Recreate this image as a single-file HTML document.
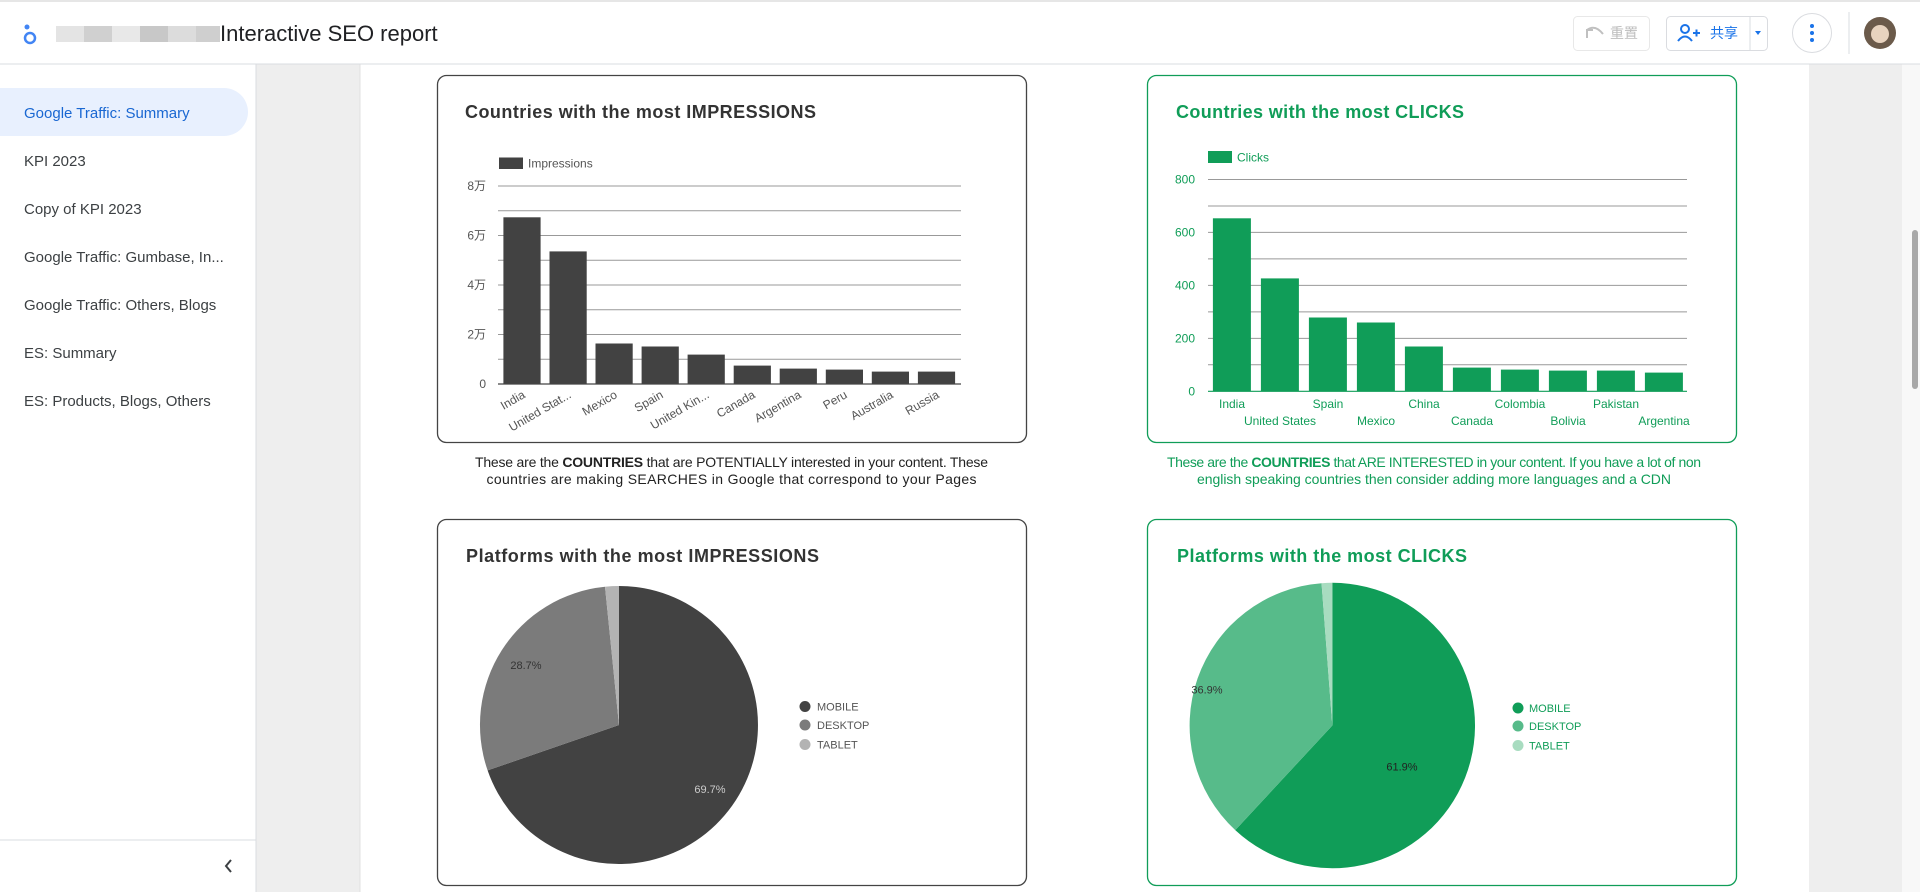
<!DOCTYPE html>
<html><head><meta charset="utf-8"><style>
html,body{margin:0;padding:0;width:1920px;height:892px;overflow:hidden;background:#fff}
svg{display:block}
text{font-family:"Liberation Sans","Noto Sans CJK SC",sans-serif}
</style></head><body>
<svg width="1920" height="892" viewBox="0 0 1920 892" xmlns="http://www.w3.org/2000/svg">
<!-- backgrounds -->
<rect x="0" y="0" width="1920" height="892" fill="#fff"/>
<rect x="256" y="64" width="1664" height="828" fill="#eeeeee"/>
<rect x="360" y="64" width="1449" height="828" fill="#fff"/>
<line x1="360" y1="64" x2="360" y2="892" stroke="#e0e0e0"/>
<rect x="1902" y="64" width="18" height="828" fill="#f8f8f8"/>
<rect x="1912" y="230" width="6" height="159" rx="3" fill="#a8a8a8"/>
<!-- header -->
<line x1="0" y1="1" x2="1920" y2="1" stroke="#e6e6e6" stroke-width="2"/>
<line x1="0" y1="64" x2="1920" y2="64" stroke="#dadce0"/>
<circle cx="30" cy="38" r="5" fill="none" stroke="#4285f4" stroke-width="2.5"/>
<circle cx="27" cy="27" r="2.5" fill="#4285f4"/>
<rect x="56" y="26" width="28" height="16" fill="#e4e4e4"/>
<rect x="84" y="26" width="28" height="16" fill="#d0d0d0"/>
<rect x="112" y="26" width="28" height="16" fill="#e8e8e8"/>
<rect x="140" y="26" width="28" height="16" fill="#c8c8c8"/>
<rect x="168" y="26" width="28" height="16" fill="#dcdcdc"/>
<rect x="196" y="26" width="24" height="16" fill="#cfcfcf"/>
<text x="220" y="41" font-size="22" fill="#202124">Interactive SEO report</text>
<rect x="1573.5" y="16.5" width="76" height="34" rx="4" fill="#fff" stroke="#e8e8e8"/>
<path d="M1587 38 l0-8 l6 0 M1587 30 q8-6 16 4" fill="none" stroke="#c0c0c0" stroke-width="2"/>
<text x="1610" y="38" font-size="14" fill="#bdbdbd">重置</text>
<rect x="1666.5" y="16.5" width="101" height="34" rx="4" fill="#fff" stroke="#dadce0"/>
<line x1="1750" y1="17" x2="1750" y2="50" stroke="#dadce0"/>
<circle cx="1685" cy="29" r="4" fill="none" stroke="#1a73e8" stroke-width="2"/>
<path d="M1678 41 q7-9 14 0" fill="none" stroke="#1a73e8" stroke-width="2"/>
<path d="M1693 33 h7 M1696.5 29.5 v7" stroke="#1a73e8" stroke-width="2"/>
<text x="1710" y="38" font-size="14" fill="#1a73e8">共享</text>
<path d="M1755 31 l6 0 l-3 4 z" fill="#1a73e8"/>
<circle cx="1812" cy="33" r="19.5" fill="#fff" stroke="#dadce0"/>
<circle cx="1812" cy="26" r="2" fill="#1a73e8"/><circle cx="1812" cy="33" r="2" fill="#1a73e8"/><circle cx="1812" cy="40" r="2" fill="#1a73e8"/>
<line x1="1849" y1="12" x2="1849" y2="54" stroke="#dadce0"/>
<circle cx="1880" cy="33" r="16" fill="#6b5a4a"/>
<circle cx="1880" cy="34" r="9" fill="#e8d3bf"/>
<!-- sidebar -->
<line x1="256" y1="64" x2="256" y2="892" stroke="#dadce0"/>
<path d="M0 88 H224 a24 24 0 0 1 0 48 H0 Z" fill="#e8f0fe"/>
<g font-size="15" fill="#3c4043">
<text x="24" y="118" fill="#1967d2">Google Traffic: Summary</text>
<text x="24" y="166">KPI 2023</text>
<text x="24" y="214">Copy of KPI 2023</text>
<text x="24" y="262">Google Traffic: Gumbase, In...</text>
<text x="24" y="310">Google Traffic: Others, Blogs</text>
<text x="24" y="358">ES: Summary</text>
<text x="24" y="406">ES: Products, Blogs, Others</text>
</g>
<line x1="0" y1="840" x2="256" y2="840" stroke="#dadce0"/>
<path d="M231 860 l-5 6 l5 6" fill="none" stroke="#3c4043" stroke-width="2"/>

<!-- Card 1 -->
<rect x="437.5" y="75.5" width="589" height="367" rx="9" fill="#fff" stroke="#444" stroke-width="1.3"/>
<text x="465" y="118" font-size="18" font-weight="bold" fill="#333" textLength="351">Countries with the most IMPRESSIONS</text>
<rect x="499" y="157.5" width="24" height="11.5" fill="#424242"/>
<text x="528" y="167.5" font-size="12" fill="#555">Impressions</text>
<g stroke="#999" stroke-width="1">
<line x1="498" y1="186" x2="961" y2="186"/><line x1="498" y1="210.75" x2="961" y2="210.75"/>
<line x1="498" y1="235.5" x2="961" y2="235.5"/><line x1="498" y1="260.25" x2="961" y2="260.25"/>
<line x1="498" y1="285" x2="961" y2="285"/><line x1="498" y1="309.75" x2="961" y2="309.75"/>
<line x1="498" y1="334.5" x2="961" y2="334.5"/><line x1="498" y1="359.25" x2="961" y2="359.25"/>
</g>
<g font-size="12" fill="#555" text-anchor="end">
<text x="486" y="190">8万</text><text x="486" y="239.5">6万</text><text x="486" y="289">4万</text><text x="486" y="338.5">2万</text><text x="486" y="388">0</text>
</g>
<g fill="#424242">
<rect x="503.4" y="217.3" width="37.2" height="166.7"/>
<rect x="549.5" y="251.4" width="37.2" height="132.6"/>
<rect x="595.5" y="343.5" width="37.2" height="40.5"/>
<rect x="641.6" y="346.5" width="37.2" height="37.5"/>
<rect x="687.6" y="354.6" width="37.2" height="29.4"/>
<rect x="733.7" y="365.6" width="37.2" height="18.4"/>
<rect x="779.7" y="368.6" width="37.2" height="15.4"/>
<rect x="825.8" y="369.6" width="37.2" height="14.4"/>
<rect x="871.8" y="371.6" width="37.2" height="12.4"/>
<rect x="917.9" y="371.6" width="37.2" height="12.4"/>
</g>
<line x1="498" y1="384" x2="961" y2="384" stroke="#444" stroke-width="1.2"/>
<g font-size="12" fill="#555" text-anchor="end">
<text transform="translate(526,397) rotate(-30)">India</text>
<text transform="translate(572,397) rotate(-30)">United Stat...</text>
<text transform="translate(618,397) rotate(-30)">Mexico</text>
<text transform="translate(664,397) rotate(-30)">Spain</text>
<text transform="translate(710,397) rotate(-30)">United Kin...</text>
<text transform="translate(756,397) rotate(-30)">Canada</text>
<text transform="translate(802,397) rotate(-30)">Argentina</text>
<text transform="translate(848,397) rotate(-30)">Peru</text>
<text transform="translate(894,397) rotate(-30)">Australia</text>
<text transform="translate(940,397) rotate(-30)">Russia</text>
</g>
<g font-size="14" fill="#222" text-anchor="middle">
<text x="731.5" y="467" textLength="513">These are the <tspan font-weight="bold">COUNTRIES</tspan> that are POTENTIALLY interested in your content. These</text>
<text x="731.5" y="484" textLength="490">countries are making SEARCHES in Google that correspond to your Pages</text>
</g>

<!-- Card 2 -->
<rect x="1147.5" y="75.5" width="589" height="367" rx="9" fill="#fff" stroke="#109d58" stroke-width="1.3"/>
<text x="1176" y="118" font-size="18" font-weight="bold" fill="#109d58" textLength="288">Countries with the most CLICKS</text>
<rect x="1208" y="151" width="24" height="12" fill="#109d58"/>
<text x="1237" y="161.5" font-size="12" fill="#109d58">Clicks</text>
<g stroke="#999" stroke-width="1">
<line x1="1208" y1="179.5" x2="1687" y2="179.5"/><line x1="1208" y1="206" x2="1687" y2="206"/>
<line x1="1208" y1="232.4" x2="1687" y2="232.4"/><line x1="1208" y1="258.9" x2="1687" y2="258.9"/>
<line x1="1208" y1="285.4" x2="1687" y2="285.4"/><line x1="1208" y1="311.9" x2="1687" y2="311.9"/>
<line x1="1208" y1="338.4" x2="1687" y2="338.4"/><line x1="1208" y1="364.8" x2="1687" y2="364.8"/>
</g>
<g font-size="12" fill="#109d58" text-anchor="end">
<text x="1195" y="183.5">800</text><text x="1195" y="236.4">600</text><text x="1195" y="289.4">400</text><text x="1195" y="342.4">200</text><text x="1195" y="395.3">0</text>
</g>
<g fill="#109d58">
<rect x="1212.9" y="218.3" width="38" height="173"/>
<rect x="1260.9" y="278.4" width="38" height="112.9"/>
<rect x="1308.9" y="317.5" width="38" height="73.8"/>
<rect x="1356.9" y="322.5" width="38" height="68.8"/>
<rect x="1404.9" y="346.5" width="38" height="44.8"/>
<rect x="1452.9" y="367.6" width="38" height="23.7"/>
<rect x="1500.9" y="369.6" width="38" height="21.7"/>
<rect x="1548.9" y="370.6" width="38" height="20.7"/>
<rect x="1596.9" y="370.6" width="38" height="20.7"/>
<rect x="1644.9" y="372.6" width="38" height="18.7"/>
</g>
<line x1="1208" y1="391.3" x2="1687" y2="391.3" stroke="#109d58" stroke-width="1.2"/>
<g font-size="12" fill="#109d58" text-anchor="middle">
<text x="1232" y="408">India</text><text x="1280" y="425">United States</text>
<text x="1328" y="408">Spain</text><text x="1376" y="425">Mexico</text>
<text x="1424" y="408">China</text><text x="1472" y="425">Canada</text>
<text x="1520" y="408">Colombia</text><text x="1568" y="425">Bolivia</text>
<text x="1616" y="408">Pakistan</text><text x="1664" y="425">Argentina</text>
</g>
<g font-size="14" fill="#109d58" text-anchor="middle">
<text x="1434" y="467" textLength="534">These are the <tspan font-weight="bold">COUNTRIES</tspan> that ARE INTERESTED in your content. If you have a lot of non</text>
<text x="1434" y="484" textLength="474">english speaking countries then consider adding more languages and a CDN</text>
</g>

<!-- Card 3 -->
<rect x="437.5" y="519.5" width="589" height="366" rx="9" fill="#fff" stroke="#444" stroke-width="1.3"/>
<text x="466" y="562" font-size="18" font-weight="bold" fill="#333" textLength="353">Platforms with the most IMPRESSIONS</text>
<path d="M619 725 L619 586 A139 139 0 1 1 487.6 770.4 Z" fill="#424242"/>
<path d="M619 725 L487.6 770.4 A139 139 0 0 1 605 586.7 Z" fill="#7b7b7b"/>
<path d="M619 725 L605 586.7 A139 139 0 0 1 619 586 Z" fill="#b3b3b3"/>
<text x="526" y="669" font-size="11" fill="#333" text-anchor="middle">28.7%</text>
<text x="710" y="793" font-size="11" fill="#ccc" text-anchor="middle">69.7%</text>
<g font-size="11" fill="#555">
<circle cx="805" cy="706.5" r="5.5" fill="#424242"/><text x="817" y="710.5">MOBILE</text>
<circle cx="805" cy="725" r="5.5" fill="#7b7b7b"/><text x="817" y="729">DESKTOP</text>
<circle cx="805" cy="744.5" r="5.5" fill="#b3b3b3"/><text x="817" y="748.5">TABLET</text>
</g>

<!-- Card 4 -->
<rect x="1147.5" y="519.5" width="589" height="366" rx="9" fill="#fff" stroke="#109d58" stroke-width="1.3"/>
<text x="1177" y="562" font-size="18" font-weight="bold" fill="#109d58" textLength="290">Platforms with the most CLICKS</text>
<path d="M1332.3 725.5 L1332.3 582.8 A142.7 142.7 0 1 1 1235.25 830.1 Z" fill="#109d58"/>
<path d="M1332.3 725.5 L1235.25 830.1 A142.7 142.7 0 0 1 1321.55 583.2 Z" fill="#57bb8a"/>
<path d="M1332.3 725.5 L1321.55 583.2 A142.7 142.7 0 0 1 1332.3 582.8 Z" fill="#a8dcc0"/>
<text x="1207" y="693.5" font-size="11" fill="#333" text-anchor="middle">36.9%</text>
<text x="1402" y="770.5" font-size="11" fill="#222" text-anchor="middle">61.9%</text>
<g font-size="11" fill="#109d58">
<circle cx="1518" cy="708" r="5.5" fill="#109d58"/><text x="1529" y="712">MOBILE</text>
<circle cx="1518" cy="726" r="5.5" fill="#57bb8a"/><text x="1529" y="730">DESKTOP</text>
<circle cx="1518" cy="745.5" r="5.5" fill="#a8dcc0"/><text x="1529" y="749.5">TABLET</text>
</g>
</svg>
</body></html>
